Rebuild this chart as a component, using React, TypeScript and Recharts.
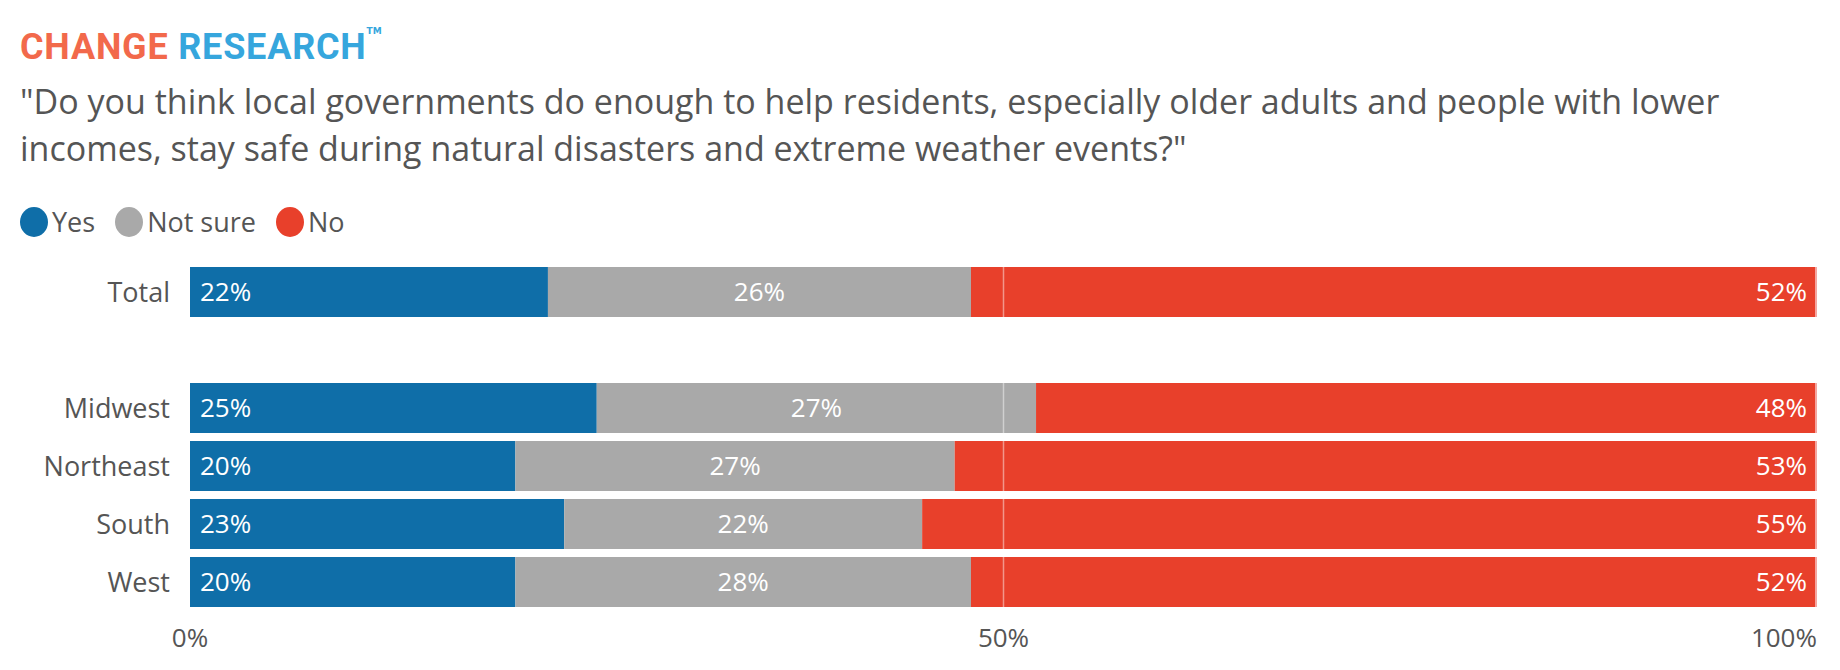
import React from "react";
import { BarChart, Bar, XAxis, YAxis, LabelList, ReferenceLine, Rectangle } from "recharts";

const categories = ["Total", "", "Midwest", "Northeast", "South", "West"];
const yes = [22, null, 25, 20, 23, 20];
const notSure = [26, null, 27, 27, 22, 28];
const no = [52, null, 48, 53, 55, 52];
const xTicks = [0, 50, 100];

const BLUE = "#0f6ea8";
const GRAY = "#a9a9a9";
const RED = "#e8402b";
const FONT = "'Open Sans', Lato, sans-serif";

const data = categories.map((c, i) => ({ cat: c, yes: yes[i], notSure: notSure[i], no: no[i] }));

function makeLabel(align: "start" | "middle" | "end") {
  return (p: any) => {
    if (p.value == null) return null;
    const { x, y, width, height } = p;
    const tx = align === "start" ? x + 10 : align === "end" ? x + width - 10 : x + width / 2;
    return (
      <text x={tx} y={y + height / 2} dy="0.35em" textAnchor={align} fill="#fff" fontSize={26} fontFamily={FONT}>
        {p.value}%
      </text>
    );
  };
}

// red segment with the thin pink edge at its right end
function NoShape(p: any) {
  if (!p.width) return null;
  return (
    <g>
      <Rectangle {...p} fill={RED} />
      <rect x={p.x + p.width - 2} y={p.y} width={2} height={p.height} fill="#f4a6a0" />
    </g>
  );
}

function XTick(p: any) {
  const v = p.payload.value;
  const anchor = v === 100 ? "end" : "middle";
  return (
    <text x={p.x} y={p.y + 28} textAnchor={anchor} fill="#555" fontSize={26} fontFamily={FONT}>
      {v}%
    </text>
  );
}

const legend = [
  { name: "Yes", color: BLUE },
  { name: "Not sure", color: GRAY },
  { name: "No", color: RED },
];

export default function App() {
  return (
    <div style={{ position: "relative", width: 1840, height: 670, margin: -8, background: "#fff", fontFamily: FONT, overflow: "hidden" }}>
      <div style={{ position: "absolute", left: 20, top: 26, fontSize: 36, fontWeight: 700, letterSpacing: 0.8, fontFamily: "Roboto, sans-serif" }}>
        <span style={{ color: "#f2694b" }}>CHANGE</span>{" "}
        <span style={{ color: "#36a6dd" }}>RESEARCH</span>
        <span style={{ fontSize: 9, color: "#36a6dd", verticalAlign: "top", fontFamily: "'DejaVu Sans', sans-serif", letterSpacing: 0 }}>TM</span>
      </div>
      <div style={{ position: "absolute", left: 20, top: 78, fontSize: 34, lineHeight: "47px", color: "#555", whiteSpace: "nowrap" }}>
        "Do you think local governments do enough to help residents, especially older adults and people with lower
        <br />
        incomes, stay safe during natural disasters and extreme weather events?"
      </div>
      <div style={{ position: "absolute", left: 20, top: 203, display: "flex", alignItems: "center", fontSize: 27, color: "#555" }}>
        {legend.map((l) => (
          <div key={l.name} style={{ display: "flex", alignItems: "center", marginRight: 20 }}>
            <span style={{ width: 28, height: 30, borderRadius: "50%", background: l.color, display: "inline-block", marginRight: 4 }} />
            {l.name}
          </div>
        ))}
      </div>
      <div style={{ position: "absolute", left: 0, top: 0 }}>
        <BarChart width={1840} height={670} data={data} layout="vertical" margin={{ top: 263, bottom: 0, left: 0, right: 23 }} barSize={50}>
          <XAxis type="number" domain={[0, 100]} ticks={xTicks} axisLine={false} tickLine={false} tick={<XTick />} height={59} />
          <YAxis type="category" dataKey="cat" width={190} axisLine={false} tickLine={false} tickMargin={14}
            tick={{ fontSize: 27, fill: "#555", fontFamily: FONT }} />
          <Bar dataKey="yes" stackId="a" fill={BLUE} isAnimationActive={false}>
            <LabelList dataKey="yes" content={makeLabel("start")} />
          </Bar>
          <Bar dataKey="notSure" stackId="a" fill={GRAY} isAnimationActive={false}>
            <LabelList dataKey="notSure" content={makeLabel("middle")} />
          </Bar>
          <Bar dataKey="no" stackId="a" fill={RED} shape={<NoShape />} isAnimationActive={false}>
            <LabelList dataKey="no" content={makeLabel("end")} />
          </Bar>
          <ReferenceLine x={50} stroke="#fff" strokeOpacity={0.45} strokeWidth={1.5} />
        </BarChart>
      </div>
    </div>
  );
}
